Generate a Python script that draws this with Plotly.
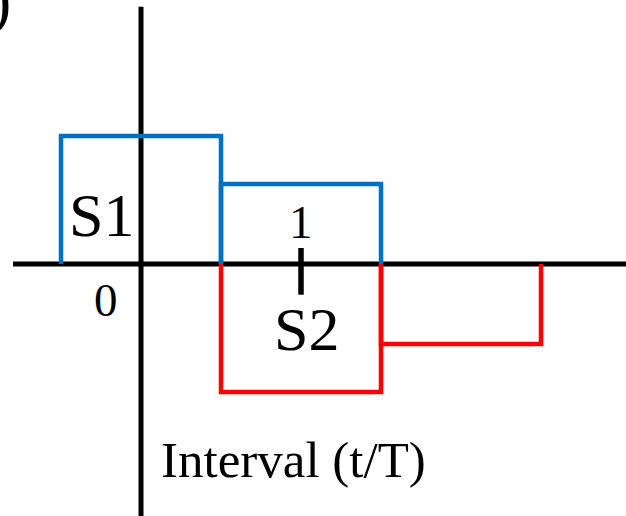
import plotly.graph_objects as go

# --- data ---
s1_edges = [-0.5, 0.5, 1.5]
s1_levels = [1.0, 0.625]
s2_edges = [0.5, 1.5, 2.5]
s2_levels = [-1.0, -0.625]
tick_values = [1]
tick_labels = ["1"]
origin_label = "0"
series_names = ["S1", "S2"]
axis_title = "Interval (t/T)"

BLUE = "#0070C0"
RED = "#FF0000"

X_RANGE = [-0.88125, 3.03125]
Y_RANGE = [-1.96875, 2.0625]


def pulse_path(edges, levels):
    xs, ys = [], []
    for i, v in enumerate(levels):
        x0, x1 = edges[i], edges[i + 1]
        xs += [x0, x0, x1, x1, None]
        ys += [0, v, v, 0, None]
    return xs, ys


fig = go.Figure()

# axes
fig.add_trace(go.Scatter(x=[-0.8, X_RANGE[1]], y=[0, 0], mode="lines",
                         line=dict(color="black", width=5), hoverinfo="skip"))
fig.add_trace(go.Scatter(x=[0, 0], y=[Y_RANGE[0], 2.01], mode="lines",
                         line=dict(color="black", width=5), hoverinfo="skip"))
for t in tick_values:
    fig.add_trace(go.Scatter(x=[t, t], y=[0.125, -0.24], mode="lines",
                             line=dict(color="black", width=5.5), hoverinfo="skip"))

for edges, levels, col in [(s1_edges, s1_levels, BLUE), (s2_edges, s2_levels, RED)]:
    xs, ys = pulse_path(edges, levels)
    fig.add_trace(go.Scatter(x=xs, y=ys, mode="lines",
                             line=dict(color=col, width=4.5), hoverinfo="skip"))

FONT = "Liberation Serif"
ann = []
ann.append(dict(x=-0.244, y=0.385, text=series_names[0], font=dict(size=62)))
ann.append(dict(x=1.034, y=-0.51, text=series_names[1], font=dict(size=62)))
for t, lab in zip(tick_values, tick_labels):
    ann.append(dict(x=t, y=0.33, text=lab, font=dict(size=47)))
ann.append(dict(x=-0.216, y=-0.281, text=origin_label, font=dict(size=47)))
ann.append(dict(x=0.956, y=-1.53, text=axis_title, font=dict(size=51)))
for a in ann:
    a.update(xref="x", yref="y", showarrow=False, xanchor="center", yanchor="middle")
    a["font"].update(family=FONT, color="black")
# partial bracket at top-left corner
ann.append(dict(xref="paper", yref="paper", x=0.02, y=1.0, text=")",
                showarrow=False, xanchor="right", yanchor="middle",
                font=dict(family=FONT, size=64, color="black")))

fig.update_layout(
    width=626, height=516,
    margin=dict(l=0, r=0, t=0, b=0),
    paper_bgcolor="white", plot_bgcolor="white",
    showlegend=False,
    xaxis=dict(range=X_RANGE, visible=False, fixedrange=True),
    yaxis=dict(range=Y_RANGE, visible=False, fixedrange=True),
    annotations=ann,
)

fig.write_html("out.html", config={"displayModeBar": False},
               post_script="document.body.style.margin='0';")
